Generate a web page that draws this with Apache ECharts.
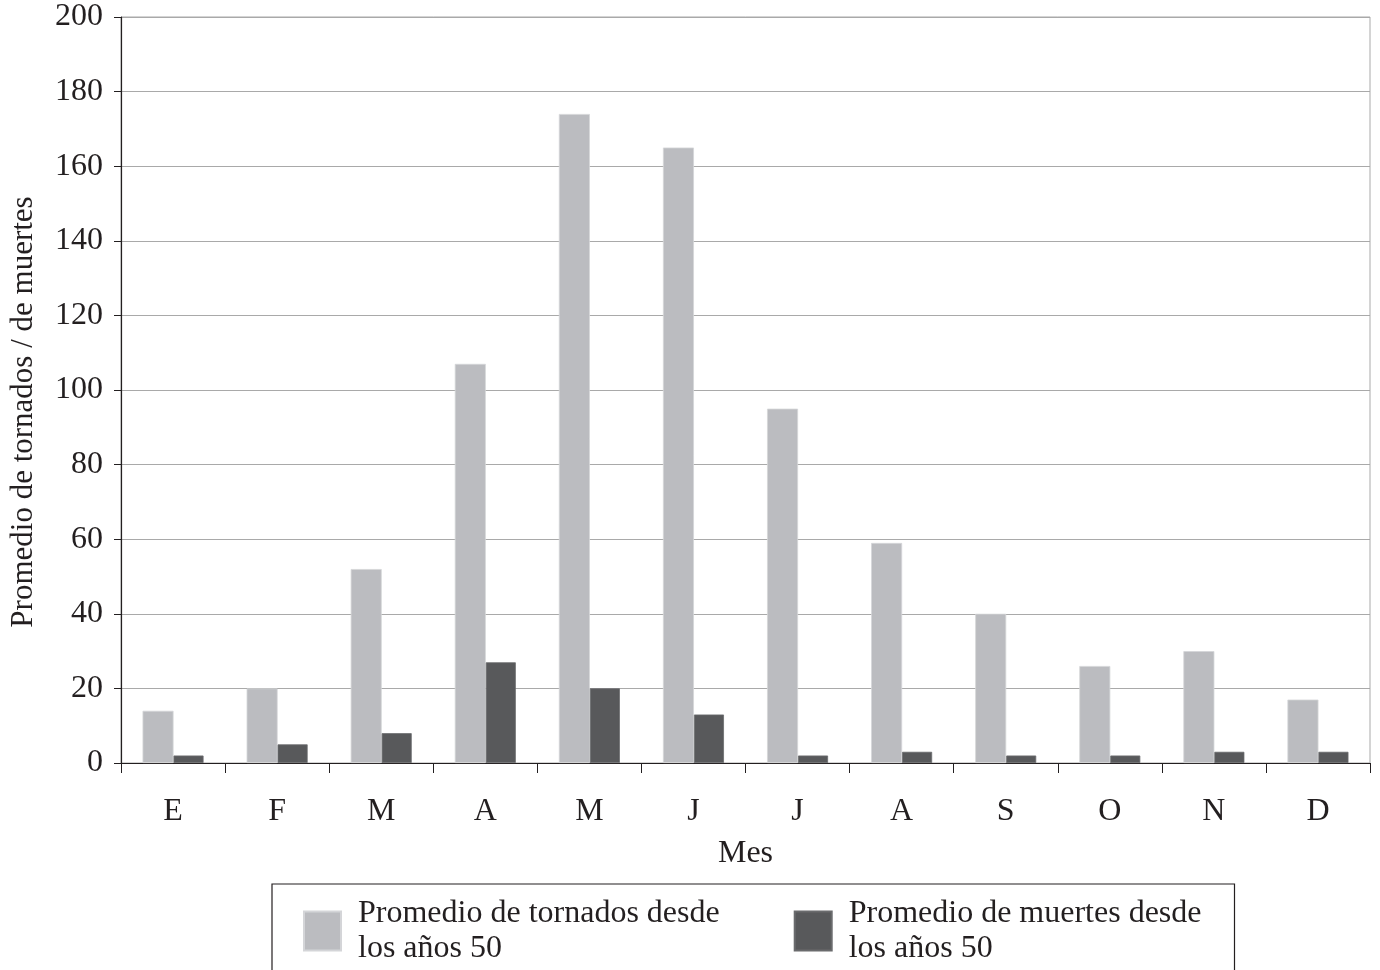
<!DOCTYPE html>
<html>
<head>
<meta charset="utf-8">
<script src="https://cdn.jsdelivr.net/npm/echarts@6/dist/echarts.min.js"></script>
<style>html,body{margin:0;padding:0;background:#fff}#c{width:1380px;height:970px}</style>
</head>
<body>
<div id="c"></div>
<script>
const months = ['E','F','M','A','M','J','J','A','S','O','N','D'];
const tornados = [14, 20, 52, 107, 174, 165, 95, 59, 40, 26, 30, 17];
const muertes = [2, 5, 8, 27, 20, 13, 2, 3, 2, 2, 3, 3];
const seriesNames = ['Promedio de tornados desde\nlos años 50', 'Promedio de muertes desde\nlos años 50'];
const yTicks = [0, 20, 40, 60, 80, 100, 120, 140, 160, 180, 200];

const font = 'Liberation Serif';
const fs = 32;
const chart = echarts.init(document.getElementById('c'));
chart.setOption({
  animation: false,
  backgroundColor: '#fff',
  textStyle: { fontFamily: font },
  grid: { left: 121, right: 10, top: 17, bottom: 207, show: true, borderColor: '#a9a9a9', borderWidth: 1, backgroundColor: 'transparent' },
  legend: {
    left: 272, top: 884,
    orient: 'horizontal',
    padding: [12, 33, 40, 31],
    itemGap: 74,
    itemWidth: 37, itemHeight: 39,
    icon: 'rect',
    borderColor: '#231f20', borderWidth: 1.2,
    textStyle: { fontFamily: font, fontSize: fs, color: '#231f20', lineHeight: 35, padding: [0, 0, 0, 12] },
    data: seriesNames
  },
  xAxis: {
    type: 'category',
    data: months,
    name: 'Mes', nameLocation: 'middle', nameGap: 75,
    nameTextStyle: { fontFamily: font, fontSize: fs, color: '#231f20' },
    axisLine: { lineStyle: { color: '#231f20', width: 1.2 } },
    axisTick: { show: true, alignWithLabel: false, length: 10, lineStyle: { color: '#231f20' } },
    axisLabel: { margin: 33, fontFamily: font, fontSize: fs, color: '#231f20' },
    splitLine: { show: false }
  },
  yAxis: {
    type: 'value', min: yTicks[0], max: yTicks[yTicks.length - 1], interval: 20,
    name: 'Promedio de tornados / de muertes', nameLocation: 'middle', nameGap: 82,
    nameTextStyle: { fontFamily: font, fontSize: 31, color: '#231f20', padding: [0, 44, 0, 0] },
    axisLine: { show: true, lineStyle: { color: '#231f20', width: 1.2 } },
    axisTick: { show: true, inside: false, length: 7, lineStyle: { color: '#231f20' } },
    axisLabel: { margin: 18, fontFamily: font, fontSize: fs, color: '#231f20' },
    splitLine: { show: true, lineStyle: { color: '#a9a9a9', width: 1.2 } }
  },
  series: [
    { name: seriesNames[0], type: 'bar', data: tornados, barWidth: 31, barGap: '0%',
      itemStyle: { color: '#bbbcc0', borderColor: '#d4d5d8', borderWidth: 0.8 } },
    { name: seriesNames[1], type: 'bar', data: muertes, barWidth: 30, barGap: '0%',
      itemStyle: { color: '#58595b', borderColor: '#6a6b6d', borderWidth: 0.8 } }
  ]
});
</script>
</body>
</html>
